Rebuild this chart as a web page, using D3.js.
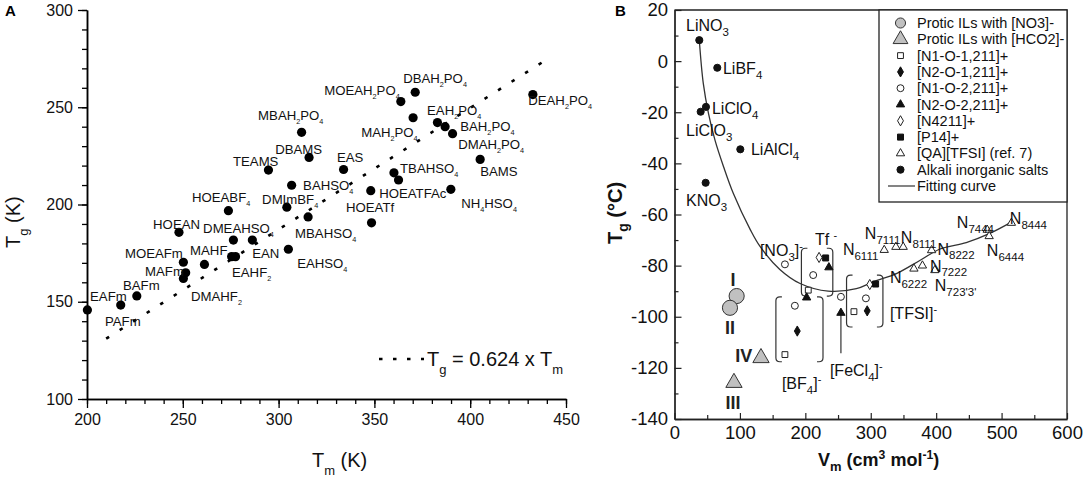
<!DOCTYPE html>
<html>
<head>
<meta charset="utf-8">
<script src="https://cdn.jsdelivr.net/npm/d3@7"></script>
<style>
body { margin: 0; background: #fff; }
svg { font-family: Arial, "Liberation Sans", Helvetica, sans-serif; }
</style>
</head>
<body>
<svg id="chart" width="1084" height="478"></svg>
<script>
// ---------- panel A : Tg vs Tm ----------
const tmA = [200.2, 217.6, 226, 248, 250.3, 251.5, 250.3, 261.3, 276.4, 275.5, 277.5, 286.3, 305.1,
             273.8, 294.7, 304.3, 315.4, 306.8, 312, 315.9, 333.9, 348.1, 348.5, 360.2, 362.6,
             389.9, 363.8, 371.3, 370.2, 382.9, 386.9, 390.8, 405.2, 432.7];
const tgA = [145.8, 148.3, 153, 185.7, 170.3, 164.9, 162, 169.2, 181.7, 173.2, 173.2, 181.7, 177,
             196.8, 217.7, 198.6, 193.6, 209.9, 237.1, 224.2, 218, 207.1, 190.6, 216.3, 212.6,
             207.8, 252.9, 257.7, 244.6, 242.1, 240, 236.4, 223.2, 256.5];
// label text, Tm and Tg where the text starts (baseline)
const labelsA = [
  ["DBAH_{2}PO_{4}", 365.0, 262.5], ["MOEAH_{2}PO_{4}", 323.8, 256.3], ["MBAH_{2}PO_{4}", 289.3, 243.4],
  ["MAH_{2}PO_{4}", 343.1, 234.7], ["EAH_{2}PO_{4}", 377.5, 246.0], ["BAH_{2}PO_{4}", 394.8, 237.8],
  ["DMAH_{2}PO_{4}", 393.7, 228.3], ["DEAH_{2}PO_{4}", 430.3, 251.2], ["BAMS", 405.2, 214.7],
  ["DBAMS", 298.2, 226.0], ["TEAMS", 276.2, 219.8], ["EAS", 330.5, 221.9], ["TBAHSO_{4}", 363.4, 216.2],
  ["BAHSO_{4}", 312.8, 207.5], ["HOEATFAc", 352.5, 203.3], ["NH_{4}HSO_{4}", 395.3, 198.2],
  ["DMImBF_{4}", 291.4, 200.3], ["HOEATf", 335.2, 196.1], ["MBAHSO_{4}", 308.6, 182.8],
  ["HOEABF_{4}", 254.8, 201.3], ["HOEAN", 234.5, 187.4], ["DMEAHSO_{4}", 260.6, 185.3],
  ["MOEAFm", 219.8, 172.5], ["MAHF", 253.8, 174.0], ["EAN", 286.2, 172.5], ["MAFm", 230.3, 163.2],
  ["EAHF_{2}", 275.7, 162.7], ["BAFm", 218.8, 156.0], ["EAFm", 201.6, 150.4], ["DMAHF_{2}", 254.3, 150.4],
  ["PAFm", 209.4, 137.5], ["EAHSO_{4}", 309.7, 167.4]
];
const fitA = [[210, 131.0], [440, 274.6]];
const ticksXA = [200, 250, 300, 350, 400, 450];
const ticksYA = [100, 150, 200, 250, 300];

// ---------- panel B : Tg vs Vm ----------
const alkaliV  = [37.9, 65.4, 48.1, 40, 100.6, 47.6];
const alkaliTg = [8.2, -2.6, -17.9, -19.8, -34.5, -47.6];
const nitratePIL = [[95, -91.9], [84.8, -96.5]];
const formatePIL = [[90.9, -125.8], [132.2, -116.1]];
const n1o1 = [[204.5, -89.6], [168.8, -114.8], [274.3, -98]];
const n2o1 = [[187.7, -105.6], [294.6, -97.7]];
const n1o2 = [[168.8, -79.5], [212, -83.7], [184, -95.7], [254.4, -92.2], [292.6, -92.8]];
const n2o2 = [[236, -80.7], [202, -92.5], [254.4, -98.5]];
const n4211 = [[221, -76.8], [298.5, -87.4]];
const p14 = [[231, -77], [307.4, -87.2]];
const qaTfsi = [[320.6, -73.9], [338.4, -72.7], [349.6, -72.7], [366, -81.2], [379, -80], [393, -74],
                [398, -81.8], [478, -66], [481, -68.5], [515, -63.3]];
const fitV  = [38, 44, 52, 62, 75, 90, 116, 131, 161, 192, 235, 278, 304, 340, 375, 406, 446, 482, 515];
const fitTg = [8, -8.7, -20.5, -31, -41.3, -51.8, -66, -72.6, -81.5, -87, -90, -89, -86.3, -83, -78, -73.5, -71, -67.4, -63];
const labelsB = [
  ["LiNO_{3}", 17.6, 11.7], ["LiBF_{4}", 74.1, -5.1], ["LiClO_{4}", 57.3, -20.7], ["LiClO_{3}", 17.6, -29.3],
  ["LiAlCl_{4}", 116.9, -36.8], ["KNO_{3}", 17.6, -56.7], ["[NO_{3}]^{-}", 130.6, -76.3], ["Tf ^{-}", 214.7, -72],
  ["[BF_{4}]^{-}", 164.2, -128.3], ["[FeCl_{4}]^{-}", 237.6, -123.2], ["[TFSI]^{-}", 329.3, -100.9],
  ["N_{6111}", 257.4, -75.9], ["N_{7111}", 291, -69.6], ["N_{8111}", 346, -71.2], ["N_{6222}", 329.3, -86.9],
  ["N_{8222}", 402, -75.8], ["N_{7222}", 390.4, -82.4], ["N_{723'3'}", 397.9, -90.0],
  ["N_{7444}", 431.6, -65.3], ["N_{8444}", 512.6, -63.8], ["N_{6444}", 477.5, -76.3]
];
const romanB = [["I", 89.4, -88.0], ["II", 84.8, -106.8], ["III", 89.4, -136.2], ["IV", 106, -117.8]];
const brackets = [[194, 242, -73.2, -91.9], [155, 227, -92.2, -117.6], [263, 318.6, -83.7, -104]];
const arrowFeCl4 = [[254.4, -98.5], [254.4, -114.3]];
const ticksXB = [0, 100, 200, 300, 400, 500, 600];
const ticksYB = [20, 0, -20, -40, -60, -80, -100, -120, -140];
const legendB = [
  ["Protic ILs with [NO3]-", "bigCircle"], ["Protic ILs with [HCO2]-", "bigTriangle"],
  ["[N1-O-1,211]+", "openSquare"], ["[N2-O-1,211]+", "fillDiamond"], ["[N1-O-2,211]+", "openCircle"],
  ["[N2-O-2,211]+", "fillTriangle"], ["[N4211]+", "openDiamond"], ["[P14]+", "fillSquare"],
  ["[QA][TFSI] (ref. 7)", "openTriangle"], ["Alkali inorganic salts", "fillCircle"], ["Fitting curve", "line"]
];

const svg = d3.select("#chart");

// text with _{sub} and ^{sup}
function rich(text, str, size, subScale, subShift) {
  const parts = str.split(/([_^]\{[^}]*\})/).filter(s => s !== "");
  let cur = 0;
  parts.forEach(p => {
    let content = p, shift = 0, fs = size;
    if (p[0] === "_") { content = p.slice(2, -1); shift = size * subShift; fs = size * subScale; }
    else if (p[0] === "^") { content = p.slice(2, -1); shift = -size * 0.4; fs = size * 0.68; }
    text.append("tspan").attr("dy", shift - cur).attr("font-size", fs).text(content);
    cur = shift;
  });
}

// ================= PANEL A =================
const xA = d3.scaleLinear().domain([200, 450]).range([87, 566]);
const yA = d3.scaleLinear().domain([100, 300]).range([399, 10]);
const gA = svg.append("g");

function styleAxis(g, size) {
  g.selectAll("path.domain").attr("stroke", "#000").attr("stroke-width", 1.5);
  g.selectAll(".tick line").attr("stroke", "#000").attr("stroke-width", 1.3);
  g.selectAll(".tick text").attr("font-size", size).attr("fill", "#111")
    .attr("font-family", "Arial, 'Liberation Sans', sans-serif");
}

gA.append("g").attr("transform", `translate(0,${yA(100)})`)
  .call(d3.axisBottom(xA).tickValues(d3.range(200, 451, 10)).tickSize(5).tickSizeOuter(0).tickFormat(""))
  .call(g => styleAxis(g, 16));
gA.append("g").attr("transform", `translate(0,${yA(100)})`)
  .call(d3.axisBottom(xA).tickValues(ticksXA).tickSize(9).tickSizeOuter(0).tickPadding(6))
  .call(g => styleAxis(g, 16));
gA.append("g").attr("transform", `translate(${xA(200)},0)`)
  .call(d3.axisLeft(yA).tickValues(d3.range(100, 301, 10)).tickSize(5).tickSizeOuter(0).tickFormat(""))
  .call(g => styleAxis(g, 16));
gA.append("g").attr("transform", `translate(${xA(200)},0)`)
  .call(d3.axisLeft(yA).tickValues(ticksYA).tickSize(9).tickSizeOuter(0).tickPadding(5))
  .call(g => styleAxis(g, 16));

// dotted fit
gA.append("path")
  .datum(fitA)
  .attr("d", d3.line().x(d => xA(d[0])).y(d => yA(d[1])))
  .attr("fill", "none").attr("stroke", "#000").attr("stroke-width", 2.6)
  .attr("stroke-dasharray", "3.5,12.5");

gA.selectAll(".ptA")
  .data(tmA)
  .join("circle")
  .attr("class", "ptA")
  .attr("cx", d => xA(d))
  .attr("cy", (d, i) => yA(tgA[i]))
  .attr("r", 4.6)
  .attr("fill", "#000");

gA.selectAll(".labA")
  .data(labelsA)
  .join("text")
  .attr("class", "labA")
  .attr("x", d => xA(d[1]))
  .attr("y", d => yA(d[2]))
  .attr("fill", "#111")
  .each(function(d) { rich(d3.select(this), d[0], 13.2, 0.55, 0.3); });

// legend of fit
gA.append("line").attr("x1", 379).attr("x2", 424).attr("y1", 359).attr("y2", 359)
  .attr("stroke", "#000").attr("stroke-width", 2.6).attr("stroke-dasharray", "3.5,10.5");
gA.append("text").attr("x", 427).attr("y", 366).attr("fill", "#111")
  .each(function() { rich(d3.select(this), "T_{g} = 0.624 x T_{m}", 20, 0.65, 0.38); });

// axis titles
gA.append("text").attr("x", 312).attr("y", 467).attr("fill", "#111")
  .each(function() { rich(d3.select(this), "T_{m} (K)", 20, 0.65, 0.38); });
gA.append("text").attr("transform", "translate(20,248) rotate(-90)").attr("fill", "#111")
  .each(function() { rich(d3.select(this), "T_{g} (K)", 20, 0.65, 0.38); });
gA.append("text").attr("x", 5).attr("y", 16).attr("font-weight", "bold").attr("font-size", 15).text("A");

// ================= PANEL B =================
const xB = d3.scaleLinear().domain([0, 600]).range([674.5, 1067]);
const yB = d3.scaleLinear().domain([-140, 20]).range([419, 10]);
const gB = svg.append("g");

function styleAxisB(g) {
  g.selectAll("path.domain").attr("stroke", "#222").attr("stroke-width", 1.3);
  g.selectAll(".tick line").attr("stroke", "#222").attr("stroke-width", 1.2);
  g.selectAll(".tick text").attr("font-size", 18.5).attr("fill", "#111")
    .attr("font-family", "Arial, 'Liberation Sans', sans-serif");
}

gB.append("g").attr("transform", `translate(0,${yB(-140)})`)
  .call(d3.axisBottom(xB).tickValues(d3.range(50, 600, 100)).tickSize(-4).tickSizeOuter(0).tickFormat(""))
  .call(styleAxisB);
gB.append("g").attr("transform", `translate(0,${yB(-140)})`)
  .call(d3.axisBottom(xB).tickValues(ticksXB).tickSize(-6).tickSizeOuter(0).tickPadding(7).tickFormat(d => String(d)))
  .call(styleAxisB);
gB.append("g").attr("transform", `translate(${xB(0)},0)`)
  .call(d3.axisLeft(yB).tickValues(d3.range(-130, 20, 20)).tickSize(-4).tickSizeOuter(0).tickFormat(""))
  .call(styleAxisB);
gB.append("g").attr("transform", `translate(${xB(0)},0)`)
  .call(d3.axisLeft(yB).tickValues(ticksYB).tickSize(-7).tickSizeOuter(0).tickPadding(6.5).tickFormat(d => String(d)))
  .call(styleAxisB);
// frame top/right
gB.append("path")
  .attr("d", `M${xB(0)},${yB(20)}H${xB(600)}V${yB(-140)}`)
  .attr("fill", "none").attr("stroke", "#222").attr("stroke-width", 1.3);

// fitting curve
gB.append("path")
  .datum(fitV.map((v, i) => [v, fitTg[i]]))
  .attr("d", d3.line().x(d => xB(d[0])).y(d => yB(d[1])).curve(d3.curveCatmullRom))
  .attr("fill", "none").attr("stroke", "#333").attr("stroke-width", 1.3);

// brackets
brackets.forEach(b => {
  const x0 = xB(b[0]), x1 = xB(b[1]), y0 = yB(b[2]), y1 = yB(b[3]);
  const a = 6, r = 4;
  gB.append("path")
    .attr("d", `M${x0 + a},${y0}H${x0 + r}Q${x0},${y0} ${x0},${y0 + r}V${y1 - r}Q${x0},${y1} ${x0 + r},${y1}H${x0 + a}` +
               `M${x1 - a},${y0}H${x1 - r}Q${x1},${y0} ${x1},${y0 + r}V${y1 - r}Q${x1},${y1} ${x1 - r},${y1}H${x1 - a}`)
    .attr("fill", "none").attr("stroke", "#333").attr("stroke-width", 1.2);
});
gB.append("path")
  .datum(arrowFeCl4)
  .attr("d", d3.line().x(d => xB(d[0])).y(d => yB(d[1])))
  .attr("stroke", "#333").attr("stroke-width", 1.2);

// marker definitions
const markers = {
  bigCircle:   { type: d3.symbolCircle,   size: 180, fill: "#c0c0c0", stroke: "#333" },
  bigTriangle: { type: d3.symbolTriangle, size: 115, fill: "#c0c0c0", stroke: "#333" },
  openSquare:  { type: d3.symbolSquare,   size: 34,  fill: "#fff", stroke: "#222" },
  fillDiamond: { type: d3.symbolDiamond,  size: 30,  fill: "#111", stroke: "#111" },
  openCircle:  { type: d3.symbolCircle,   size: 38,  fill: "#fff", stroke: "#222" },
  fillTriangle:{ type: d3.symbolTriangle, size: 30,  fill: "#111", stroke: "#111" },
  openDiamond: { type: d3.symbolDiamond,  size: 30,  fill: "#fff", stroke: "#222" },
  fillSquare:  { type: d3.symbolSquare,   size: 36,  fill: "#111", stroke: "#111" },
  openTriangle:{ type: d3.symbolTriangle, size: 30,  fill: "#fff", stroke: "#222" },
  fillCircle:  { type: d3.symbolCircle,   size: 40,  fill: "#111", stroke: "#111" }
};

function drawSeries(data, key) {
  const m = markers[key];
  gB.append("g").selectAll("path")
    .data(data)
    .join("path")
    .attr("transform", d => `translate(${xB(d[0])},${yB(d[1])})`)
    .attr("d", d3.symbol().type(m.type).size(m.size))
    .attr("fill", m.fill).attr("stroke", m.stroke).attr("stroke-width", 1);
}
drawSeries(alkaliV.map((v, i) => [v, alkaliTg[i]]), "fillCircle");
drawSeries(nitratePIL, "bigCircle");
drawSeries(formatePIL, "bigTriangle");
drawSeries(n1o1, "openSquare");
drawSeries(n2o1, "fillDiamond");
drawSeries(n1o2, "openCircle");
drawSeries(n4211, "openDiamond");
drawSeries(p14, "fillSquare");
drawSeries(n2o2, "fillTriangle");
drawSeries(qaTfsi, "openTriangle");

gB.selectAll(".labB")
  .data(labelsB)
  .join("text")
  .attr("class", "labB")
  .attr("x", d => xB(d[1]))
  .attr("y", d => yB(d[2]))
  .attr("fill", "#111")
  .each(function(d) { rich(d3.select(this), d[0], 16, 0.72, 0.28); });

gB.selectAll(".romB")
  .data(romanB)
  .join("text")
  .attr("class", "romB")
  .attr("x", d => xB(d[1]))
  .attr("y", d => yB(d[2]))
  .attr("text-anchor", "middle")
  .attr("font-weight", "bold").attr("font-size", 18).attr("fill", "#222")
  .text(d => d[0]);

// legend
const legX = 879, legTop = yB(20), legBottom = 202;
gB.append("rect").attr("x", legX).attr("y", legTop).attr("width", xB(600) - legX).attr("height", legBottom - legTop)
  .attr("fill", "#fff").attr("stroke", "#222").attr("stroke-width", 1.3);
const legY = d3.scalePoint().domain(legendB.map(d => d[0])).range([23, 186]);
legendB.forEach(d => {
  const y = legY(d[0]);
  if (d[1] === "line") {
    gB.append("line").attr("x1", 888).attr("x2", 915).attr("y1", y).attr("y2", y)
      .attr("stroke", "#333").attr("stroke-width", 1.2);
  } else {
    const m = markers[d[1]];
    const sz = d[1] === "bigCircle" ? 80 : d[1] === "bigTriangle" ? 95 : m.size;
    gB.append("path").attr("transform", `translate(900.5,${y})`)
      .attr("d", d3.symbol().type(m.type).size(sz))
      .attr("fill", m.fill).attr("stroke", m.stroke).attr("stroke-width", 1);
  }
  gB.append("text").attr("x", 917).attr("y", y + 5).attr("font-size", 14.5).attr("fill", "#111").text(d[0]);
});

// axis titles
gB.append("text").attr("x", 818).attr("y", 466).attr("font-weight", "bold").attr("fill", "#111")
  .each(function() { rich(d3.select(this), "V_{m} (cm^{3} mol^{-1})", 18, 0.72, 0.3); });
gB.append("text").attr("transform", "translate(622,244) rotate(-90)").attr("font-weight", "bold").attr("fill", "#111")
  .each(function() { rich(d3.select(this), "T_{g} (°C)", 20, 0.7, 0.3); });
gB.append("text").attr("x", 615).attr("y", 16).attr("font-weight", "bold").attr("font-size", 15).text("B");
</script>
</body>
</html>
